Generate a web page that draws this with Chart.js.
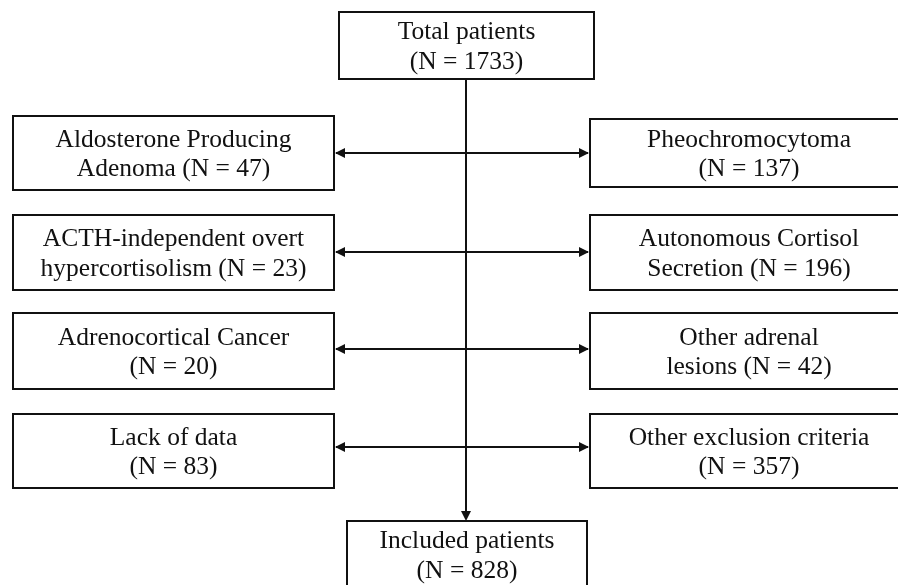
<!DOCTYPE html>
<html>
<head>
<meta charset="utf-8">
<script src="https://cdn.jsdelivr.net/npm/chart.js@4"></script>
<style>
  html, body { margin: 0; padding: 0; background: #fff; }
  #wrap { width: 898px; height: 585px; }
</style>
</head>
<body>
<div id="wrap"><canvas id="chart1" width="898" height="585"></canvas></div>
<script>
// Flowchart data
const totalLabel = "Total patients";
const totalCount = 1733;
const includedLabel = "Included patients";
const includedCount = 828;

const leftLine1 = ["Aldosterone Producing", "ACTH-independent overt", "Adrenocortical Cancer", "Lack of data"];
const leftLine2 = ["Adenoma", "hypercortisolism", "", ""];
const leftCounts = [47, 23, 20, 83];

const rightLine1 = ["Pheochromocytoma", "Autonomous Cortisol", "Other adrenal", "Other exclusion criteria"];
const rightLine2 = ["", "Secretion", "lesions", ""];
const rightCounts = [137, 196, 42, 357];

// Layout (in axis units, which run 0..898 and 0..585)
const leftBox = { x0: 13, x1: 334 };
const rightBox = { x0: 590, x1: 910 };
const rowTops = [116, 215, 313, 414];
const rowBottoms = [190, 290, 389, 488];
const rightTops = [119, 215, 313, 414];
const rightBottoms = [187, 290, 389, 488];
const arrowY = [153, 252, 349, 447];
const topBox = { x0: 339, x1: 594, y0: 12, y1: 79 };
const bottomBox = { x0: 347, x1: 587, y0: 521, y1: 600 };
const stemX = 466;

function countText(n) { return "(N = " + n + ")"; }

const flowPlugin = {
    id: 'flow',
    afterDatasetsDraw(chart) {
        const ctx = chart.ctx;
        const xs = chart.scales.x, ys = chart.scales.y;
        const X = v => xs.getPixelForValue(v);
        const Y = v => ys.getPixelForValue(v);
        const ink = '#111111';

        ctx.save();
        ctx.strokeStyle = ink;
        ctx.fillStyle = ink;
        ctx.lineWidth = 2;

        function box(x0, x1, y0, y1, lines) {
            ctx.strokeRect(X(x0), Y(y0), X(x1) - X(x0), Y(y1) - Y(y0));
            ctx.font = '25.5px "Liberation Serif", "Times New Roman", serif';
            ctx.textAlign = 'center';
            ctx.textBaseline = 'middle';
            const cx = (X(x0) + X(Math.min(x1, 908))) / 2;
            const cy = (Y(y0) + Y(Math.min(y1, 588))) / 2 + 2;
            const lh = 29.5;
            lines.forEach((t, i) => {
                ctx.fillText(t, cx, cy + (i - (lines.length - 1) / 2) * lh);
            });
        }

        function head(x, y, dir) {
            // dir: 'l', 'r', 'd'
            const L = 10, W = 5;
            ctx.beginPath();
            if (dir === 'l') { ctx.moveTo(x, y); ctx.lineTo(x + L, y - W); ctx.lineTo(x + L, y + W); }
            if (dir === 'r') { ctx.moveTo(x, y); ctx.lineTo(x - L, y - W); ctx.lineTo(x - L, y + W); }
            if (dir === 'd') { ctx.moveTo(x, y); ctx.lineTo(x - W, y - L); ctx.lineTo(x + W, y - L); }
            ctx.closePath();
            ctx.fill();
        }

        // vertical stem
        ctx.beginPath();
        ctx.moveTo(X(stemX), Y(topBox.y1));
        ctx.lineTo(X(stemX), Y(bottomBox.y0) - 2);
        ctx.stroke();
        head(X(stemX), Y(bottomBox.y0), 'd');

        // horizontal double arrows
        arrowY.forEach(y => {
            ctx.beginPath();
            ctx.moveTo(X(leftBox.x1) + 2, Y(y));
            ctx.lineTo(X(rightBox.x0) - 2, Y(y));
            ctx.stroke();
            head(X(leftBox.x1) + 1, Y(y), 'l');
            head(X(rightBox.x0) - 1, Y(y), 'r');
        });

        // boxes
        box(topBox.x0, topBox.x1, topBox.y0, topBox.y1, [totalLabel, countText(totalCount)]);
        box(bottomBox.x0, bottomBox.x1, bottomBox.y0, bottomBox.y1, [includedLabel, countText(includedCount)]);
        leftLine1.forEach((t, i) => {
            const l2 = leftLine2[i] ? leftLine2[i] + " " + countText(leftCounts[i]) : countText(leftCounts[i]);
            box(leftBox.x0, leftBox.x1, rowTops[i], rowBottoms[i], [t, l2]);
        });
        rightLine1.forEach((t, i) => {
            const l2 = rightLine2[i] ? rightLine2[i] + " " + countText(rightCounts[i]) : countText(rightCounts[i]);
            box(rightBox.x0, rightBox.x1, rightTops[i], rightBottoms[i], [t, l2]);
        });
        ctx.restore();
    }
};

new Chart(document.getElementById('chart1').getContext('2d'), {
    type: 'scatter',
    data: {
        datasets: [{
            label: 'nodes',
            data: [],
            pointRadius: 0
        }]
    },
    options: {
        responsive: false,
        animation: false,
        layout: { padding: 0 },
        plugins: { legend: { display: false }, tooltip: { enabled: false } },
        scales: {
            x: { type: 'linear', min: 0, max: 898, display: false },
            y: { type: 'linear', min: 0, max: 585, reverse: true, display: false }
        }
    },
    plugins: [flowPlugin]
});
</script>
</body>
</html>
